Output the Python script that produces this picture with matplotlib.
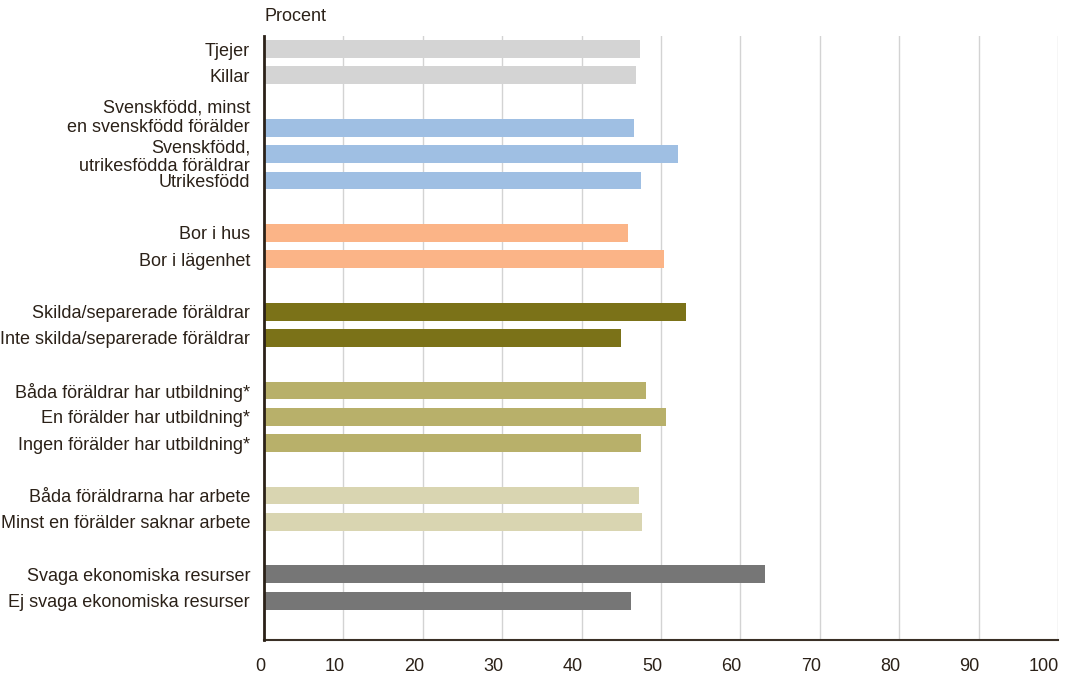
import matplotlib.pyplot as plt
import matplotlib.transforms as mtransforms

labels = ["Tjejer", "Killar",
          "Svenskfödd, minst\nen svenskfödd förälder",
          "Svenskfödd,\nutrikesfödda föräldrar", "Utrikesfödd",
          "Bor i hus", "Bor i lägenhet",
          "Skilda/separerade föräldrar", "Inte skilda/separerade föräldrar",
          "Båda föräldrar har utbildning*", "En förälder har utbildning*",
          "Ingen förälder har utbildning*",
          "Båda föräldrarna har arbete", "Minst en förälder saknar arbete",
          "Svaga ekonomiska resurser", "Ej svaga ekonomiska resurser"]
values = [47.4, 46.8, 46.6, 52.1, 47.5, 45.8, 50.4, 53.2, 45.0,
          48.1, 50.6, 47.5, 47.2, 47.6, 63.1, 46.2]
group_sizes = [2, 3, 2, 2, 3, 2, 2]
group_colors = ["#d4d4d4", "#9fbfe3", "#fbb487", "#7b7218",
                "#b8b06a", "#d9d5b1", "#767676"]
xticks = [0, 10, 20, 30, 40, 50, 60, 70, 80, 90, 100]

plt.rcParams['font.family'] = ['Liberation Sans', 'DejaVu Sans']
textcol = "#2b2118"

# bar positions: one empty row between groups
pos = []
colors = []
row = 0
for g, n in enumerate(group_sizes):
    for i in range(n):
        pos.append(row)
        colors.append(group_colors[g])
        row += 1
    row += 1

fig = plt.figure(figsize=(10.68, 6.82), dpi=100)
ax = fig.add_axes([0.2472, 0.0616, 0.7434, 0.8856])

ax.barh(pos, values, height=0.68, color=colors, zorder=3)
ax.set_xlim(0, 100)
ax.set_ylim(row - 0.5, -0.5)

ax.set_xticks(xticks)
ax.set_xticklabels([str(t) for t in xticks], fontsize=13, color=textcol, ha='right')
ax.set_yticks(pos)
ax.set_yticklabels(labels, fontsize=13, color=textcol, linespacing=1.15)
ax.tick_params(axis='both', length=0)
ax.tick_params(axis='x', pad=13)
ax.tick_params(axis='y', pad=10)

# x labels sit just left of their grid line
for lab in ax.get_xticklabels():
    lab.set_transform(lab.get_transform() + mtransforms.ScaledTranslation(1/100, 0, fig.dpi_scale_trans))

# first two-line label sits higher than its bar
lab = ax.get_yticklabels()[2]
lab.set_transform(lab.get_transform() + mtransforms.ScaledTranslation(0, 13/100, fig.dpi_scale_trans))

ax.grid(axis='x', color='#d3d3d3', linewidth=1, zorder=0)
ax.grid(axis='y', visible=False)
for s in ['top', 'right']:
    ax.spines[s].set_visible(False)
ax.spines['left'].set_color('#2b2118')
ax.spines['left'].set_linewidth(2)
ax.spines['bottom'].set_color('#3a3026')
ax.spines['bottom'].set_linewidth(1.5)
ax.spines['left'].set_zorder(4)

fig.text(0.2472, 0.976, "Procent", fontsize=13, color=textcol, ha='left', va='center')

fig.savefig("out.png", dpi=100)
